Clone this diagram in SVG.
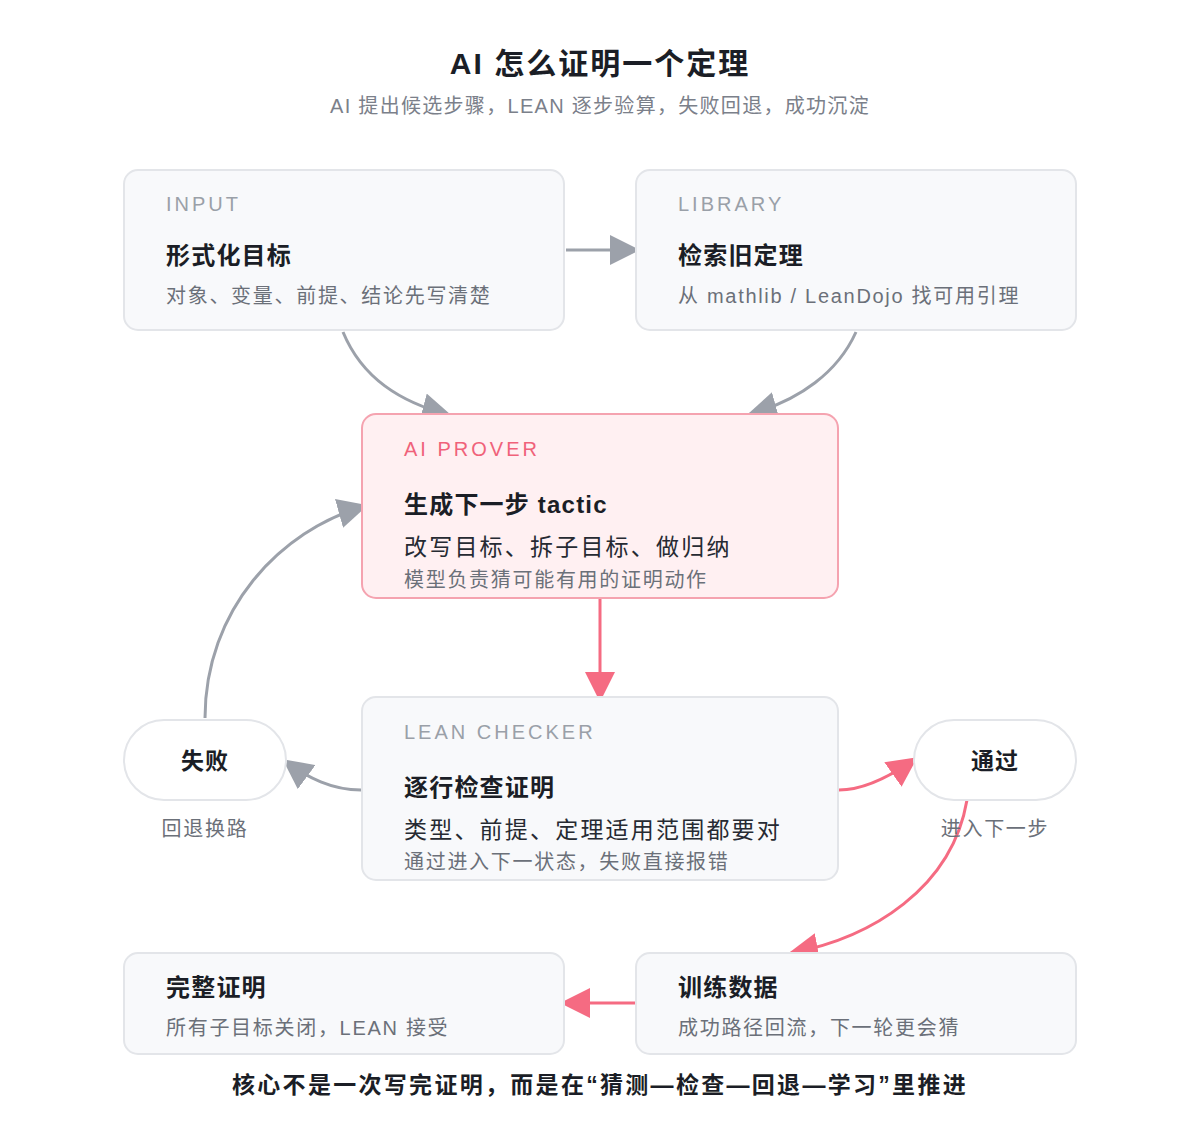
<svg xmlns="http://www.w3.org/2000/svg" width="1200" height="1129" viewBox="0 0 1200 1129">
<defs>
<style>
text{font-family:"Liberation Sans","Noto Sans CJK SC",sans-serif}
.title{font-size:30px;font-weight:bold;fill:#1b1e26;letter-spacing:2px}
.sub{font-size:20px;fill:#7b808a;letter-spacing:1.3px}
.lab{font-size:20px;fill:#9aa0a8;letter-spacing:3px}
.labp{font-size:20px;fill:#f0627a;letter-spacing:3px}
.h{font-size:24px;font-weight:bold;fill:#1b1e26;letter-spacing:1.2px}
.d{font-size:20px;fill:#6b7079;letter-spacing:1.7px}
.m{font-size:23px;fill:#262a32;letter-spacing:2.2px}
.pill{font-size:23px;font-weight:bold;fill:#1b1e26;letter-spacing:1px}
.foot{font-size:23px;font-weight:bold;fill:#1b1e26;letter-spacing:2.3px}
.box{fill:#f8f9fb;stroke:#e3e5e9;stroke-width:2}
.pbox{fill:#fff0f2;stroke:#f5a3b0;stroke-width:2}
.pillbox{fill:#ffffff;stroke:#e3e5e9;stroke-width:2}
.cg{fill:none;stroke:#9ca1aa;stroke-width:3}
.cp{fill:none;stroke:#f56b82;stroke-width:3}
</style>
<marker id="ag" markerUnits="userSpaceOnUse" markerWidth="30" markerHeight="30" viewBox="0 0 30 30" refX="27" refY="15" orient="auto"><path d="M0,0 L30,15 L0,30 z" fill="#9ca1aa"/></marker>
<marker id="ap" markerUnits="userSpaceOnUse" markerWidth="30" markerHeight="30" viewBox="0 0 30 30" refX="27" refY="15" orient="auto"><path d="M0,0 L30,15 L0,30 z" fill="#f56b82"/></marker>
</defs>
<rect width="1200" height="1129" fill="#ffffff"/>
<text class="title" x="600" y="74" text-anchor="middle">AI 怎么证明一个定理</text>
<text class="sub" x="600" y="113" text-anchor="middle">AI 提出候选步骤，LEAN 逐步验算，失败回退，成功沉淀</text>

<g id="connectors">
<path class="cg" d="M566,250 L637,250" marker-end="url(#ag)"/>
<path class="cg" d="M343,332 C362,378 400,402 449,415" marker-end="url(#ag)"/>
<path class="cg" d="M856,332 C838,372 800,400 750,414" marker-end="url(#ag)"/>
<path class="cp" d="M600,598 L600,699" marker-end="url(#ap)"/>
<path class="cg" d="M361,790 C332,790 308,778 285,761" marker-end="url(#ag)"/>
<path class="cg" d="M205,718 C205,610 280,530 365,506" marker-end="url(#ag)"/>
<path class="cp" d="M839,790 C862,790 888,778 915,759" marker-end="url(#ap)"/>
<path class="cp" d="M967,800 C952,888 872,938 791,953" marker-end="url(#ap)"/>
<path class="cp" d="M636,1003 L563,1003" marker-end="url(#ap)"/>
</g>

<g id="input">
<rect class="box" x="124" y="170" width="440" height="160" rx="14"/>
<text class="lab" x="166" y="211">INPUT</text>
<text class="h" x="166" y="264">形式化目标</text>
<text class="d" x="166" y="303">对象、变量、前提、结论先写清楚</text>
</g>
<g id="library">
<rect class="box" x="636" y="170" width="440" height="160" rx="14"/>
<text class="lab" x="678" y="211">LIBRARY</text>
<text class="h" x="678" y="264">检索旧定理</text>
<text class="d" x="678" y="303">从 mathlib / LeanDojo 找可用引理</text>
</g>
<g id="prover">
<rect class="pbox" x="362" y="414" width="476" height="184" rx="14"/>
<text class="labp" x="404" y="456">AI PROVER</text>
<text class="h" x="404" y="513">生成下一步 tactic</text>
<text class="m" x="404" y="555">改写目标、拆子目标、做归纳</text>
<text class="d" x="404" y="587">模型负责猜可能有用的证明动作</text>
</g>
<g id="checker">
<rect class="box" x="362" y="697" width="476" height="183" rx="14"/>
<text class="lab" x="404" y="739">LEAN CHECKER</text>
<text class="h" x="404" y="796">逐行检查证明</text>
<text class="m" x="404" y="838">类型、前提、定理适用范围都要对</text>
<text class="d" x="404" y="869">通过进入下一状态，失败直接报错</text>
</g>
<g id="fail">
<rect class="pillbox" x="124" y="720" width="162" height="80" rx="40"/>
<text class="pill" x="205" y="769" text-anchor="middle">失败</text>
<text class="d" x="205" y="836" text-anchor="middle">回退换路</text>
</g>
<g id="pass">
<rect class="pillbox" x="914" y="720" width="162" height="80" rx="40"/>
<text class="pill" x="995" y="769" text-anchor="middle">通过</text>
<text class="d" x="995" y="836" text-anchor="middle">进入下一步</text>
</g>
<g id="complete">
<rect class="box" x="124" y="953" width="440" height="101" rx="14"/>
<text class="h" x="166" y="996">完整证明</text>
<text class="d" x="166" y="1035">所有子目标关闭，LEAN 接受</text>
</g>
<g id="training">
<rect class="box" x="636" y="953" width="440" height="101" rx="14"/>
<text class="h" x="678" y="996">训练数据</text>
<text class="d" x="678" y="1035">成功路径回流，下一轮更会猜</text>
</g>
<text class="foot" x="600" y="1093" text-anchor="middle">核心不是一次写完证明，而是在“猜测—检查—回退—学习”里推进</text>
</svg>
